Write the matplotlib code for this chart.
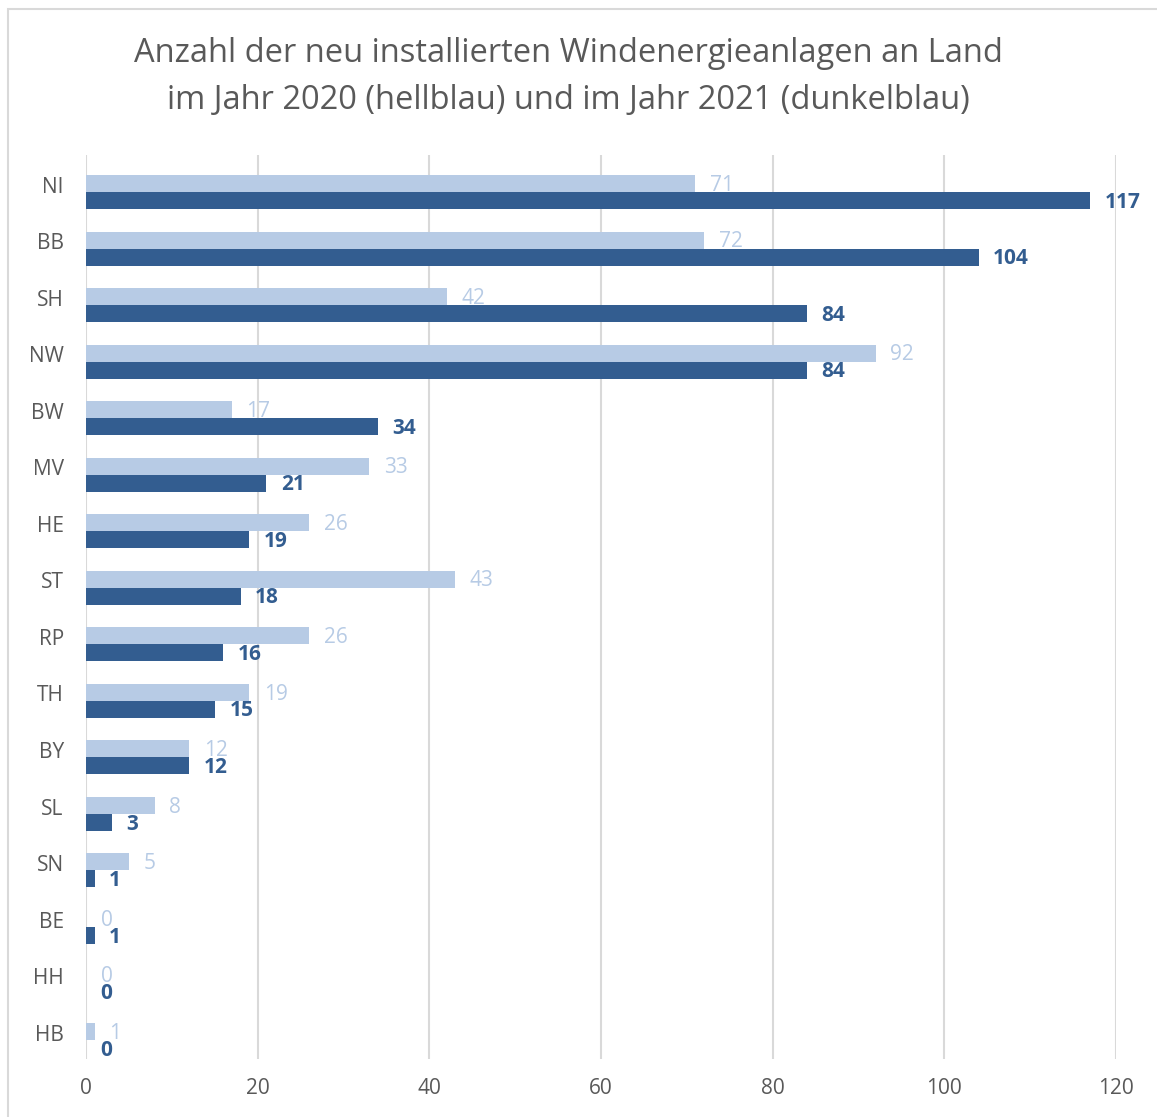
import matplotlib
matplotlib.use("Agg")
import matplotlib.pyplot as plt
import numpy as np
from matplotlib.patches import Rectangle

states = ["NI", "BB", "SH", "NW", "BW", "MV", "HE", "ST", "RP", "TH", "BY", "SL", "SN", "BE", "HH", "HB"]
v2020 = [71, 72, 42, 92, 17, 33, 26, 43, 26, 19, 12, 8, 5, 0, 0, 1]
v2021 = [117, 104, 84, 84, 34, 21, 19, 18, 16, 15, 12, 3, 1, 1, 0, 0]
xticks = [0, 20, 40, 60, 80, 100, 120]
title = "Anzahl der neu installierten Windenergieanlagen an Land\nim Jahr 2020 (hellblau) und im Jahr 2021 (dunkelblau)"

light = "#b7cbe5"
dark = "#335d90"
gray = "#595959"

plt.rcParams['font.family'] = ['Open Sans', 'DejaVu Sans']

fig = plt.figure(figsize=(11.57, 11.17), dpi=100)
W, H = 1157, 1117
ax = fig.add_axes([86 / W, 1 - 1059 / H, (1116 - 86) / W, (1059 - 155) / H])

y = np.arange(len(states))
bh = 0.30
ax.barh(y - bh / 2, v2020, height=bh, color=light, zorder=3)
ax.barh(y + bh / 2, v2021, height=bh, color=dark, zorder=3)

for yi, a, b in zip(y, v2020, v2021):
    ax.text(a + 1.7, yi - bh / 2 + 0.03, str(a), color=light, fontsize=15,
            va="center", ha="left", zorder=4)
    ax.text(b + 1.7, yi + bh / 2 + 0.03, str(b), color=dark, fontsize=15,
            fontweight="bold", va="center", ha="left", zorder=4)

ax.set_xlim(0, 120)
ax.set_ylim(15 + 19 / 56.5, -37 / 56.5)
ax.set_xticks(xticks)
ax.set_xticklabels([str(t) for t in xticks])
ax.set_yticks(y - 0.13)
ax.set_yticklabels(states)
ax.tick_params(axis="both", length=0, colors=gray, labelsize=15)
ax.tick_params(axis="x", pad=14)
ax.tick_params(axis="y", pad=16)
for s in ax.spines.values():
    s.set_visible(False)
ax.grid(axis="x", color="#d9d9d9", linewidth=1.5, zorder=0)
ax.set_axisbelow(True)

fig.text(568 / W, 1 - 77 / H, title, ha="center", va="center", fontsize=23.5,
         color=gray, linespacing=1.56)

fig.patches.append(Rectangle((8 / W, -0.1), 1.2, 1.1 - 9 / H,
                             transform=fig.transFigure, fill=False,
                             edgecolor="#d9d9d9", linewidth=1.5))

fig.savefig("out.png", dpi=100)
